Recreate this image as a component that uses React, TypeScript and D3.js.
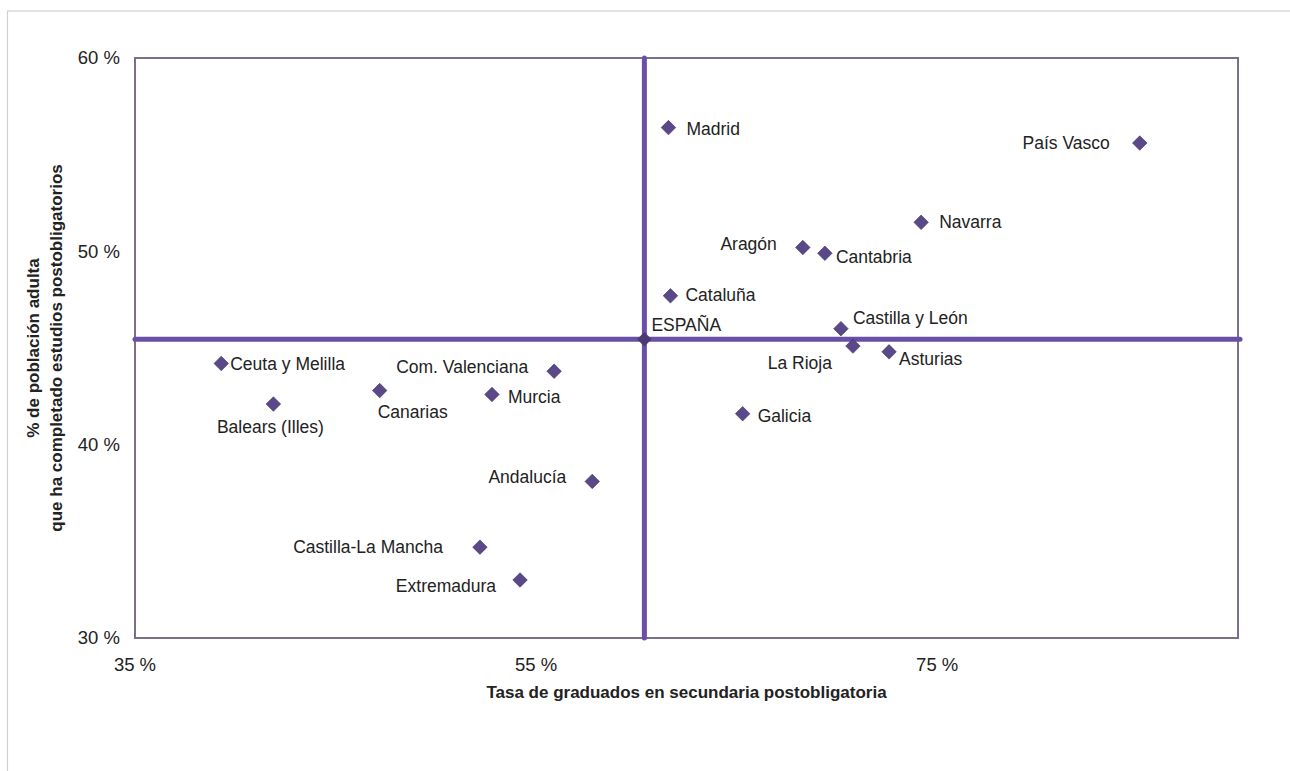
import React from "react";
import * as d3 from "d3";

// ---- Data ----
const regions = [
  "Ceuta y Melilla", "Balears (Illes)", "Canarias", "Murcia", "Com. Valenciana",
  "Andalucía", "Castilla-La Mancha", "Extremadura", "Madrid", "Navarra",
  "Aragón", "Cantabria", "Cataluña", "Castilla y León", "La Rioja",
  "Asturias", "Galicia", "País Vasco",
];
const graduados = [
  39.3, 41.9, 47.2, 52.8, 55.9,
  57.8, 52.2, 54.2, 61.6, 74.2,
  68.3, 69.4, 61.7, 70.2, 70.8,
  72.6, 65.3, 85.1,
];
const poblacion = [
  44.2, 42.1, 42.8, 42.6, 43.8,
  38.1, 34.7, 33.0, 56.4, 51.5,
  50.2, 49.9, 47.7, 46.0, 45.1,
  44.8, 41.6, 55.6,
];
const espana = { name: "ESPAÑA", x: 60.4, y: 45.45 };
const xTicks = [35, 55, 75];
const yTicks = [30, 40, 50, 60];
const xTitle = "Tasa de graduados en secundaria postobligatoria";
const yTitle = ["% de población adulta", "que ha completado estudios postobligatorios"];

// ---- Label layout (dx, dy, anchor) ----
const labelLayout: Record<string, [number, number, string]> = {
  "Ceuta y Melilla": [9, 0, "start"],
  "Balears (Illes)": [-3, 23, "middle"],
  "Canarias": [-2, 21, "start"],
  "Murcia": [16, 2, "start"],
  "Com. Valenciana": [-26, -4, "end"],
  "Andalucía": [-26, -5, "end"],
  "Castilla-La Mancha": [-37, 0, "end"],
  "Extremadura": [-24, 6, "end"],
  "Madrid": [18, 1, "start"],
  "Navarra": [18, 0, "start"],
  "Aragón": [-26, -4, "end"],
  "Cantabria": [11, 4, "start"],
  "Cataluña": [15, -1, "start"],
  "Castilla y León": [12, -11, "start"],
  "La Rioja": [-21, 17, "end"],
  "Asturias": [10, 7, "start"],
  "Galicia": [15, 2, "start"],
  "País Vasco": [-30, 0, "end"],
  "ESPAÑA": [7, -14, "start"],
};

const W = 1290, H = 771;
const plot = { left: 135, right: 1238, top: 58, bottom: 638 };
const FONT = "'Liberation Sans', Arial, Helvetica, sans-serif";
const TEXT = "#222";
const POINT = "#5a4888";
const CROSS = "#6a4fa6";
const BORDER = "#7b7088";

export default function App() {
  const x = d3.scaleLinear().domain([35, 90]).range([plot.left, plot.right]);
  const y = d3.scaleLinear().domain([30, 60]).range([plot.bottom, plot.top]);
  const diamond = d3.symbol().type(d3.symbolSquare).size(105)() as string;

  const points = regions.map((name, i) => ({ name, x: graduados[i], y: poblacion[i] }));

  const label = (name: string, px: number, py: number) => {
    const [dx, dy, anchor] = labelLayout[name];
    return (
      <text
        key={"l" + name}
        x={px + dx}
        y={py + dy}
        dy="0.35em"
        textAnchor={anchor as any}
        fontSize={17.5}
        fill={TEXT}
        fontFamily={FONT}
      >
        {name}
      </text>
    );
  };

  const midX = (plot.left + plot.right) / 2;
  const midY = (plot.top + plot.bottom) / 2;

  return (
    <svg
      width={W}
      height={H}
      style={{ position: "absolute", left: 0, top: 0, background: "#fff" }}
      fontFamily={FONT}
    >
      <rect x={0} y={0} width={W} height={H} fill="#fff" />
      {/* outer chart frame */}
      <rect x={7.5} y={11} width={W} height={H + 20} fill="none" stroke="#cfcfcf" strokeWidth={1.2} />

      {/* plot area border */}
      <rect
        x={plot.left}
        y={plot.top}
        width={plot.right - plot.left}
        height={plot.bottom - plot.top}
        fill="#fff"
        stroke={BORDER}
        strokeWidth={2}
      />

      {/* y tick labels */}
      {yTicks.map((t) => (
        <text key={"y" + t} x={plot.left - 15} y={y(t)} dy="0.35em" textAnchor="end" fontSize={18.5} fill={TEXT}>
          {t} %
        </text>
      ))}
      {/* x tick labels */}
      {xTicks.map((t) => (
        <text key={"x" + t} x={x(t)} y={plot.bottom + 27} dy="0.35em" textAnchor="middle" fontSize={18.5} fill={TEXT}>
          {t} %
        </text>
      ))}

      {/* axis titles */}
      <text x={midX} y={plot.bottom + 54} dy="0.35em" textAnchor="middle" fontSize={17} fontWeight="bold" fill={TEXT}>
        {xTitle}
      </text>
      <text transform={`translate(${33},${midY}) rotate(-90)`} dy="0.35em" textAnchor="middle" fontSize={17} fontWeight="bold" fill={TEXT}>
        {yTitle[0]}
      </text>
      <text transform={`translate(${56},${midY}) rotate(-90)`} dy="0.35em" textAnchor="middle" fontSize={17} fontWeight="bold" fill={TEXT}>
        {yTitle[1]}
      </text>

      {/* España reference lines */}
      <line
        x1={x(espana.x)}
        x2={x(espana.x)}
        y1={plot.top}
        y2={plot.bottom}
        stroke={CROSS}
        strokeWidth={5}
        strokeLinecap="round"
      />
      <line
        x1={plot.left}
        x2={plot.right + 2}
        y1={y(espana.y)}
        y2={y(espana.y)}
        stroke={CROSS}
        strokeWidth={5}
        strokeLinecap="round"
      />
      <path d={diamond} transform={`translate(${x(espana.x)},${y(espana.y)}) rotate(45)`} fill="#4a3a70" />
      {label(espana.name, x(espana.x), y(espana.y))}

      {/* points */}
      {points.map((p) => (
        <path
          key={"p" + p.name}
          d={diamond}
          transform={`translate(${x(p.x)},${y(p.y)}) rotate(45)`}
          fill={POINT}
          stroke="#3f3266"
          strokeWidth={0.6}
        />
      ))}
      {points.map((p) => label(p.name, x(p.x), y(p.y)))}
    </svg>
  );
}
